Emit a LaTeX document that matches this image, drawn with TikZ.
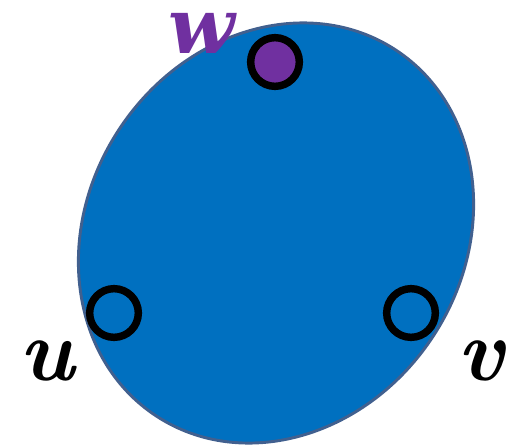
\documentclass[tikz,border=0pt]{standalone}
\usepackage{xcolor}
\usepackage{fontspec}
\newfontfamily\wfont{DejaVu Serif}
\usetikzlibrary{positioning,shapes.geometric}
\definecolor{blobfill}{HTML}{0070C0}
\definecolor{blobrim}{HTML}{41608F}
\definecolor{wpurple}{HTML}{7030A0}

\begin{document}
\begin{tikzpicture}[x=0.75pt,y=-0.75pt,
  blob/.style={ellipse, draw=blobrim, fill=blobfill, line width=2.2pt,
               inner sep=0pt, minimum width=282pt, minimum height=328pt},
  vtx/.style={circle, draw=black, line width=5.6pt, inner sep=0pt,
              minimum size=36.5pt},
  lbl/.style={font=\fontsize{66}{66}\selectfont\bfseries\itshape, inner sep=0pt},
]
  \useasboundingbox (0,0) rectangle (516,445);
  \node[blob, rotate=-33] (region) at (276,233) {};

  \node[vtx, fill=wpurple] (w) at (275,62) {};
  \node[vtx] (u) at (114,313) {};
  \node[vtx] (v) at (411,313) {};

  \node[lbl, font=\fontsize{58}{58}\selectfont\wfont\bfseries\itshape,
        text=wpurple] (wl) at (202,33) {w};
  \node[lbl] (ul) at (47,361) {u};
  \node[lbl] (vl) at (481,361) {v};
\end{tikzpicture}
\end{document}
